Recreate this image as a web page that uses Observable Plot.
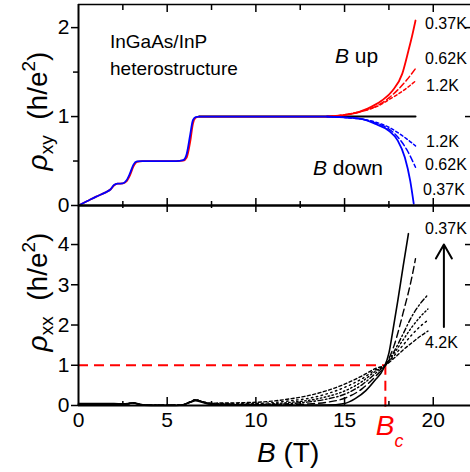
<!DOCTYPE html>
<html><head><meta charset="utf-8">
<script src="https://cdn.jsdelivr.net/npm/d3@7"></script>
<script src="https://cdn.jsdelivr.net/npm/@observablehq/plot@0.6"></script>
<style>
html,body{margin:0;padding:0;background:#fff;}
#chart{position:relative;width:470px;height:472px;overflow:hidden;}
#chart svg{position:absolute;left:0;top:0;}
</style></head><body><div id="chart"></div>
<script>
// ---------- Data ----------
// Hall resistivity rho_xy (h/e^2), low field part (common to all T)
const lowB      = [0, 0.5, 1.0, 1.5, 1.8, 2.0, 2.2, 2.5, 2.7, 2.9, 3.1, 3.3, 3.6, 4.5, 5.5, 5.9, 6.1, 6.3, 6.45, 6.6, 6.8, 8, 10, 12, 14];
const lowRxyUp  = [0, 0.05, 0.10, 0.145, 0.18, 0.225, 0.245, 0.248, 0.27, 0.34, 0.44, 0.49, 0.498, 0.5, 0.5, 0.505, 0.54, 0.72, 0.92, 0.985, 1.0, 1.0, 1.0, 1.0, 1.0];
const lowRxyDn  = [0, 0.05, 0.10, 0.145, 0.18, 0.23, 0.245, 0.248, 0.28, 0.36, 0.46, 0.495, 0.5, 0.5, 0.5, 0.51, 0.58, 0.80, 0.96, 0.995, 1.0, 1.0, 1.0, 1.0, 1.0];
// high field, B up (red)
const upB037 = [15.4, 16.3, 17.1, 17.7, 18.25, 18.6, 18.8, 19.0];
const up037  = [1.03, 1.09, 1.18, 1.29, 1.48, 1.74, 1.90, 2.08];
const upBT   = [14, 15, 16, 16.5, 17, 17.5, 18, 18.5, 19.0];
const up062  = [1.0, 1.02, 1.06, 1.09, 1.14, 1.21, 1.30, 1.41, 1.54];
const up12   = [1.0, 1.02, 1.06, 1.09, 1.13, 1.19, 1.25, 1.32, 1.40];
// high field, B down (blue)
const dnB037 = [15, 16, 16.7, 17.5, 18, 18.4, 18.7, 18.9];
const dn037  = [0.99, 0.97, 0.92, 0.84, 0.73, 0.54, 0.28, 0.02];
const dnBT   = [14, 15, 16, 16.7, 17.5, 18, 18.5, 19.0];
const dn062  = [1.0, 0.99, 0.97, 0.93, 0.86, 0.77, 0.63, 0.43];
const dn12   = [1.0, 0.99, 0.97, 0.94, 0.88, 0.82, 0.75, 0.67];
// averaged rho_xy (black)
const avgB   = [6.8, 19.0];
const avgRxy = [1.0, 1.0];

// Longitudinal resistivity rho_xx (h/e^2)
const xxLowB   = [0, 1, 2, 2.5, 2.8, 3.1, 3.4, 3.7, 4.5, 5.5, 5.9, 6.3, 6.6, 6.9, 7.3, 8, 10, 12, 14];
const xx037Low = [0.05, 0.05, 0.05, 0.04, 0.05, 0.07, 0.04, 0.01, 0, 0, 0.02, 0.08, 0.12, 0.09, 0.04, 0.02, 0.01, 0.005, 0.01];
const xxB037   = [15, 15.6, 16.2, 16.7, 17.2, 17.5, 17.7, 18.0, 18.3, 18.6];
const xx037    = [0.05, 0.17, 0.37, 0.62, 0.92, 1.3, 1.8, 2.6, 3.45, 4.27];
const xxLowBd  = [0, 2.5, 3.1, 3.6, 5.8, 6.3, 6.6, 7.0];
const xxLowD   = [0.03, 0.03, 0.06, 0.01, 0.01, 0.09, 0.14, 0.09];
const xxBT     = [7.5, 10, 12, 13, 14, 15, 16, 16.8, 17.3, 17.8, 18.3, 18.8, 19.3, 19.7];
const xx062    = [0.03, 0.01, 0.02, 0.04, 0.08, 0.18, 0.42, 0.75, 1.0, 1.5, 2.3, 3.2];
const xx062End = [19.0, 3.65];
const xx12     = [0.04, 0.02, 0.05, 0.09, 0.16, 0.28, 0.52, 0.82, 1.0, 1.35, 1.78, 2.22, 2.55, 2.75];
const xx2      = [0.05, 0.03, 0.08, 0.13, 0.22, 0.36, 0.60, 0.87, 1.0, 1.30, 1.63, 1.95, 2.22, 2.40];
const xx3      = [0.05, 0.05, 0.12, 0.18, 0.29, 0.45, 0.67, 0.90, 1.0, 1.24, 1.50, 1.76, 1.98, 2.12];
const xx42     = [0.06, 0.08, 0.17, 0.25, 0.37, 0.53, 0.74, 0.93, 1.0, 1.18, 1.38, 1.56, 1.73, 1.85];
const Bc = 17.3;
const arrowB = 20.6, arrowFrom = 1.95, arrowTo = 4.0;

// ticks
const xMajor = [5, 10, 15, 20];
const xMinor = [2.5, 7.5, 12.5, 17.5];
const xLabels = [0, 5, 10, 15, 20];
const yTopLabels = [0, 1, 2];
const yTopMinor = [0.5, 1.5];
const yBotLabels = [0, 1, 2, 3, 4];

// ---------- helpers ----------
const zip = (bs, vs) => vs.map((v, i) => ({B: bs[i], r: v}));
const FONT = "'Liberation Sans', Arial, Helvetica, sans-serif";
const W = 470, H = 472, ML = 78;

const rxyUp037 = zip(lowB, lowRxyUp).concat(zip(upB037, up037));
const rxyDn037 = zip(lowB, lowRxyDn).concat(zip(dnB037, dn037));

// ---------- top panel ----------
const topH = H - 4 - 267; // frame height (201)
const topPlot = Plot.plot({
  width: W, height: H, marginLeft: ML, marginRight: 0, marginTop: 4, marginBottom: 267,
  style: {fontFamily: FONT, background: "transparent", overflow: "visible"},
  x: {domain: [0, 22.1], axis: null},
  y: {domain: [0, 2.26], axis: null},
  marks: [
    Plot.line(zip(avgB, avgRxy), {x: "B", y: "r", stroke: "black", strokeWidth: 2}),
    Plot.line(rxyUp037, {x: "B", y: "r", stroke: "#ff0000", strokeWidth: 1.8, curve: "monotone-x"}),
    Plot.line(zip(upBT, up062), {x: "B", y: "r", stroke: "#ff0000", strokeWidth: 1.5, strokeDasharray: "6,3", curve: "monotone-x"}),
    Plot.line(zip(upBT, up12), {x: "B", y: "r", stroke: "#ff0000", strokeWidth: 1.5, strokeDasharray: "3,2.5", curve: "monotone-x"}),
    Plot.line(rxyDn037, {x: "B", y: "r", stroke: "#0000ff", strokeWidth: 1.8, curve: "monotone-x"}),
    Plot.line(zip(dnBT, dn062), {x: "B", y: "r", stroke: "#0000ff", strokeWidth: 1.5, strokeDasharray: "6,3", curve: "monotone-x"}),
    Plot.line(zip(dnBT, dn12), {x: "B", y: "r", stroke: "#0000ff", strokeWidth: 1.5, strokeDasharray: "3,2.5", curve: "monotone-x"}),
    // frame lines
    Plot.ruleX([0], {stroke: "black", strokeWidth: 2}),
    Plot.ruleY([2.26], {stroke: "black", strokeWidth: 1.5}),
    Plot.ruleY([0], {stroke: "black", strokeWidth: 2.5}),
    // x ticks: top border inward, bottom border upward
    Plot.ruleX(xMajor, {x: d => d, insetBottom: topH - 8, strokeWidth: 1.5}),
    Plot.ruleX(xMinor, {x: d => d, insetBottom: topH - 6, strokeWidth: 1.5}),
    Plot.ruleX(xMajor, {x: d => d, insetTop: topH - 7, strokeWidth: 1.5}),
    Plot.ruleX(xMinor, {x: d => d, insetTop: topH - 4, strokeWidth: 1.5}),
    // y ticks left outward, right inward
    Plot.ruleY(yTopLabels, {y: d => d, insetLeft: -7, insetRight: W - ML, strokeWidth: 1.5}),
    Plot.ruleY(yTopMinor, {y: d => d, insetLeft: -5, insetRight: W - ML, strokeWidth: 1.5}),
    Plot.ruleY([1, 2], {y: d => d, insetLeft: W - ML - 5, strokeWidth: 1.5}),
    Plot.text(yTopLabels, {y: d => d, text: d => String(d), frameAnchor: "left", dx: -9, textAnchor: "end", fontSize: 21, fill: "black"})
  ]
});

// ---------- bottom panel ----------
const botH = H - 205 - 67; // 200
const tempXX = [
  {vals: xx12, dash: "5,2.5,1.5,2.5"},
  {vals: xx2,  dash: "1.5,2.5"},
  {vals: xx3,  dash: "1.5,3.5"},
  {vals: xx42, dash: "3,2.5"}
];
const xxMarks = tempXX.map(t =>
  Plot.line(zip(xxLowBd, xxLowD).concat(zip(xxBT, t.vals)), {x: "B", y: "r", stroke: "black", strokeWidth: 1.4, strokeDasharray: t.dash, curve: "monotone-x"})
);
const botPlot = Plot.plot({
  width: W, height: H, marginLeft: ML, marginRight: 0, marginTop: 205, marginBottom: 67,
  style: {fontFamily: FONT, background: "transparent", overflow: "visible"},
  x: {domain: [0, 22.1], axis: null},
  y: {domain: [0, 4.97], axis: null},
  marks: [
    Plot.ruleY([1], {x1: 0, x2: Bc, stroke: "#ff0000", strokeWidth: 2, strokeDasharray: "10,6"}),
    Plot.ruleX([Bc], {y1: 1, y2: 0, insetBottom: -6, stroke: "#ff0000", strokeWidth: 2, strokeDasharray: "10,6"}),
    ...xxMarks,
    Plot.line(zip(xxLowBd, xxLowD).concat(zip(xxBT.slice(0, xx062.length), xx062), [{B: xx062End[0], r: xx062End[1]}]),
      {x: "B", y: "r", stroke: "black", strokeWidth: 1.4, strokeDasharray: "7,4", curve: "monotone-x"}),
    Plot.line(zip(xxLowB, xx037Low).concat(zip(xxB037, xx037)), {x: "B", y: "r", stroke: "black", strokeWidth: 1.6, curve: "monotone-x"}),
    Plot.arrow([0], {x1: arrowB, x2: arrowB, y1: arrowFrom, y2: arrowTo, stroke: "black", strokeWidth: 2, headLength: 12, bend: 0}),
    // frame lines
    Plot.ruleX([0], {stroke: "black", strokeWidth: 2}),
    Plot.ruleY([0], {stroke: "black", strokeWidth: 2}),
    // x ticks: top border downward, bottom inward
    Plot.ruleX(xMajor, {x: d => d, insetBottom: botH - 7, strokeWidth: 1.5}),
    Plot.ruleX(xMinor, {x: d => d, insetBottom: botH - 3, strokeWidth: 1.5}),
    Plot.ruleX(xMajor, {x: d => d, insetTop: botH - 8, strokeWidth: 1.5}),
    Plot.ruleX(xMinor, {x: d => d, insetTop: botH - 4, strokeWidth: 1.5}),
    // y ticks
    Plot.ruleY(yBotLabels, {y: d => d, insetLeft: -7, insetRight: W - ML, strokeWidth: 1.5}),
    Plot.ruleY([1, 2, 3, 4], {y: d => d, insetLeft: W - ML - 5, strokeWidth: 1.5}),
    Plot.text(yBotLabels, {y: d => d, text: d => String(d), frameAnchor: "left", dx: -9, textAnchor: "end", fontSize: 21, fill: "black"}),
    Plot.text(xLabels, {x: d => d, text: d => String(d), frameAnchor: "bottom", lineAnchor: "top", dy: 7, fontSize: 21, fill: "black"})
  ]
});

const chart = document.getElementById("chart");
chart.appendChild(topPlot);
chart.appendChild(botPlot);

// ---------- text annotations ----------
const svg = d3.select(botPlot);
function txt(x, y, size, color) {
  return svg.append("text").attr("x", x).attr("y", y).attr("font-size", size)
    .attr("text-anchor", "start")
    .attr("font-family", FONT).attr("fill", color || "black");
}
function ylabel(cx, cy, sub) {
  const t = svg.append("text").attr("transform", `translate(${cx},${cy}) rotate(-90)`)
    .attr("text-anchor", "middle").attr("font-size", 28).attr("font-family", FONT).attr("fill", "black");
  t.append("tspan").attr("font-style", "italic").text("ρ");
  t.append("tspan").attr("font-size", 19).attr("dy", 6).text(sub);
  t.append("tspan").attr("dy", -6).text("\u00a0\u00a0(h/e");
  t.append("tspan").attr("font-size", 19).attr("dy", -12).text("2");
  t.append("tspan").attr("dy", 12).text(")");
}
ylabel(47, 111, "xy");
ylabel(47, 292, "xx");

let tt = txt(257, 462, 28);
tt.append("tspan").attr("font-style", "italic").text("B");
tt.append("tspan").text(" (T)");

const xs = botPlot.scale("x");
tt = txt(xs.apply(Bc) - 9, 435, 28, "#ff0000");
tt.append("tspan").attr("font-style", "italic").text("B");
tt.append("tspan").attr("font-style", "italic").attr("font-size", 18).attr("dy", 12).text("c");

txt(110, 48, 19).text("InGaAs/InP");
txt(110, 75, 19).text("heterostructure");

tt = txt(335, 63, 21);
tt.append("tspan").attr("font-style", "italic").text("B");
tt.append("tspan").text(" up");
tt = txt(313, 175, 21);
tt.append("tspan").attr("font-style", "italic").text("B");
tt.append("tspan").text(" down");

txt(425, 29, 16).text("0.37K");
txt(425, 64, 16).text("0.62K");
txt(426, 91, 16).text("1.2K");
txt(426, 147, 16).text("1.2K");
txt(425, 170, 16).text("0.62K");
txt(423, 195, 16).text("0.37K");
txt(425, 234, 16).text("0.37K");
txt(425, 348, 16).text("4.2K");
</script></body></html>
